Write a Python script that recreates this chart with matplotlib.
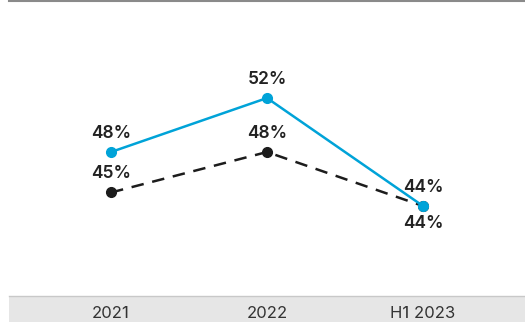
import matplotlib

matplotlib.use("Agg")
import matplotlib.pyplot as plt
from matplotlib.patches import Rectangle

periods = ["2021", "2022", "H1 2023"]
blue_values = [48, 52, 44]
black_values = [45, 48, 44]
blue_label_pos = ["above", "above", "above"]
black_label_pos = ["above", "above", "below"]

BLUE = "#00a3d8"
DARK = "#1c1c1c"

plt.rcParams["font.family"] = ["Inter", "DejaVu Sans"]

fig = plt.figure(figsize=(5.25, 3.22), dpi=100)
W, H = 525, 322
ax = fig.add_axes([9 / W, 1 - 296 / H, 516 / W, 295 / H])

x = list(range(len(periods)))
ax.plot(x, black_values, color=DARK, linewidth=1.8, dashes=(5, 3.5),
        marker="o", markersize=7, zorder=2)
ax.plot(x, blue_values, color=BLUE, linewidth=1.8,
        marker="o", markersize=7, zorder=3)


def annotate(values, where):
    for xi, v, pos in zip(x, values, where):
        dy = 13.5 if pos == "above" else -12.5
        ax.annotate(f"{v}%", (xi, v), xytext=(0, dy), textcoords="offset points",
                    ha="center", va="center", fontsize=12.5, fontweight="semibold",
                    color="#222222")


annotate(blue_values, blue_label_pos)
annotate(black_values, black_label_pos)

ax.set_xlim(-0.654, 2.654)
ax.set_ylim(37.33, 59.19)
ax.axis("off")

# top rule
fig.add_artist(plt.Line2D([9 / W, 1], [1 - 1.2 / H, 1 - 1.2 / H], color="#8a8a8a",
                          linewidth=1.5, transform=fig.transFigure))
# category band at the bottom
fig.add_artist(Rectangle((9 / W, 0), 516 / W, 26 / H, transform=fig.transFigure,
                         facecolor="#e6e6e6", edgecolor="none"))
fig.add_artist(plt.Line2D([9 / W, 1], [26 / H, 26 / H], color="#c8c8c8",
                          linewidth=1.0, transform=fig.transFigure))
for xi, label in zip(x, periods):
    fx = (9 + (xi + 0.654) / 3.308 * 516) / W
    fig.text(fx, 8.5 / H, label, ha="center", va="center", fontsize=12,
             color="#333333")

fig.savefig("out.png", dpi=100)
